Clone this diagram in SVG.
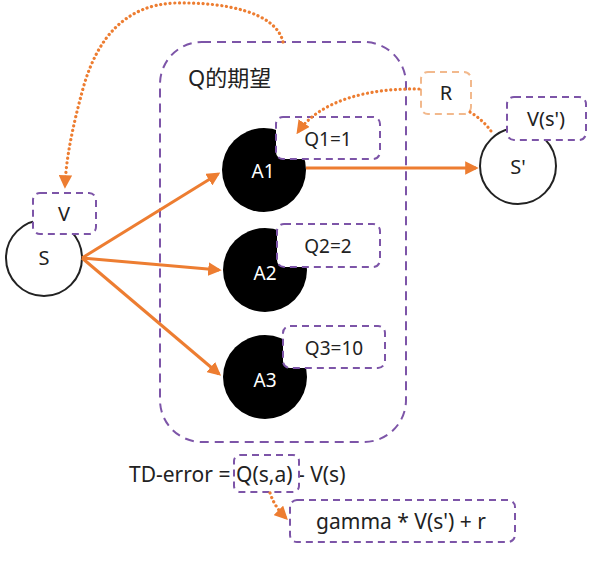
<svg xmlns="http://www.w3.org/2000/svg" width="598" height="564" viewBox="0 0 598 564">
<defs>
<style>
.dash{fill:#fff;stroke:#7d55a8;stroke-width:2;stroke-dasharray:7 5}
.big{fill:none;stroke:#7d55a8;stroke-width:2;stroke-dasharray:9 6}
.rbox{fill:#fff;stroke:#f2b98d;stroke-width:2;stroke-dasharray:7 5}
.t{font-family:"Noto Sans","Liberation Sans","Noto Sans CJK SC",sans-serif;font-size:20px;fill:#222}
.q{font-size:19px}
.tw{font-family:"Noto Sans","Liberation Sans",sans-serif;font-size:19px;fill:#fff}
.solid{fill:none;stroke:#ed7d31;stroke-width:3}
.dot{fill:none;stroke:#ed7d31;stroke-width:3.2;stroke-dasharray:0.1 4.6;stroke-linecap:round}
.circ{fill:#fff;stroke:#222;stroke-width:2}
.blk{fill:#000}
</style>
<marker id="ah" viewBox="0 0 10 10" refX="8" refY="5" markerWidth="4.5" markerHeight="4.5" orient="auto" markerUnits="strokeWidth">
<path d="M0,0 L10,5 L0,10 z" fill="#ed7d31"/>
</marker>
<marker id="ahd" viewBox="0 0 10 10" refX="8" refY="5" markerWidth="4.2" markerHeight="4.2" orient="auto" markerUnits="strokeWidth">
<path d="M0,0 L10,5 L0,10 z" fill="#ed7d31"/>
</marker>
</defs>
<rect width="598" height="564" fill="#fff"/>

<g id="group-Q">
<rect class="big" x="160" y="42" width="246" height="400" rx="42"/>
<text class="t" x="188" y="86" style="font-size:22px">Q的期望</text>
</g>

<g id="node-S">
<circle class="circ" cx="44" cy="258" r="38"/>
<text class="t" x="44" y="265" text-anchor="middle">S</text>
</g>
<g id="node-V">
<rect class="dash" x="33" y="193" width="63" height="41" rx="7"/>
<text class="t" x="64" y="221" text-anchor="middle">V</text>
</g>

<g id="node-A1">
<circle class="blk" cx="264" cy="170" r="42"/>
<text class="tw" x="263" y="178" text-anchor="middle">A1</text>
</g>
<g id="node-Q1">
<rect class="dash" x="276" y="117" width="104" height="42" rx="7"/>
<text class="t q" x="328" y="146" text-anchor="middle">Q1=1</text>
</g>

<g id="node-A2">
<circle class="blk" cx="265" cy="270" r="42"/>
<text class="tw" x="265" y="280" text-anchor="middle">A2</text>
</g>
<g id="node-Q2">
<rect class="dash" x="277" y="224" width="103" height="43" rx="7"/>
<text class="t q" x="328" y="253" text-anchor="middle">Q2=2</text>
</g>

<g id="node-A3">
<circle class="blk" cx="265" cy="377" r="42"/>
<text class="tw" x="265" y="387" text-anchor="middle">A3</text>
</g>
<g id="node-Q3">
<rect class="dash" x="283" y="326" width="102" height="42" rx="7"/>
<text class="t q" x="334" y="355" text-anchor="middle">Q3=10</text>
</g>

<g id="node-Sp">
<circle class="circ" cx="518" cy="166" r="38"/>
<text class="t" x="518" y="174" text-anchor="middle">S'</text>
</g>
<g id="node-Vsp">
<rect class="dash" x="507" y="97" width="79" height="43" rx="7"/>
<text class="t" x="546" y="126" text-anchor="middle">V(s')</text>
</g>

<g id="node-R">
<rect class="rbox" x="421" y="72" width="50" height="42" rx="7"/>
<text class="t" x="446" y="100" text-anchor="middle">R</text>
</g>

<g id="formula">
<text class="t" y="482" style="font-size:21px"><tspan x="129">TD-error =</tspan><tspan x="236">Q(s,a)</tspan><tspan x="298">- V(s)</tspan></text>
</g>
<g id="node-Qsa">
<rect class="dash" x="234" y="455" width="65" height="37" rx="6" style="fill:none"/>
</g>
<g id="node-gamma">
<rect class="dash" x="290" y="500" width="225" height="42" rx="7"/>
<text class="t" x="401" y="529" text-anchor="middle" style="font-size:21px">gamma * V(s') + r</text>
</g>

<g id="connectors">
<path class="solid" d="M82,258 L218,174" marker-end="url(#ah)"/>
<path class="solid" d="M82,258 L219,270" marker-end="url(#ah)"/>
<path class="solid" d="M82,258 L219,374" marker-end="url(#ah)"/>
<path class="solid" d="M306,168 L476,168" marker-end="url(#ah)"/>
<path class="dot" d="M283,42 C276,12 225,2 175,3 C125,5 98,38 84,85 C72,128 66,160 65,186" marker-end="url(#ahd)"/>
<path class="dot" d="M419,89 C370,88 320,100 298,132" marker-end="url(#ahd)"/>
<path class="dot" d="M470,112 C480,118 488,126 493,134"/>
<path class="dot" d="M270,493 C274,505 280,512 286,518" marker-end="url(#ahd)"/>
</g>
</svg>
